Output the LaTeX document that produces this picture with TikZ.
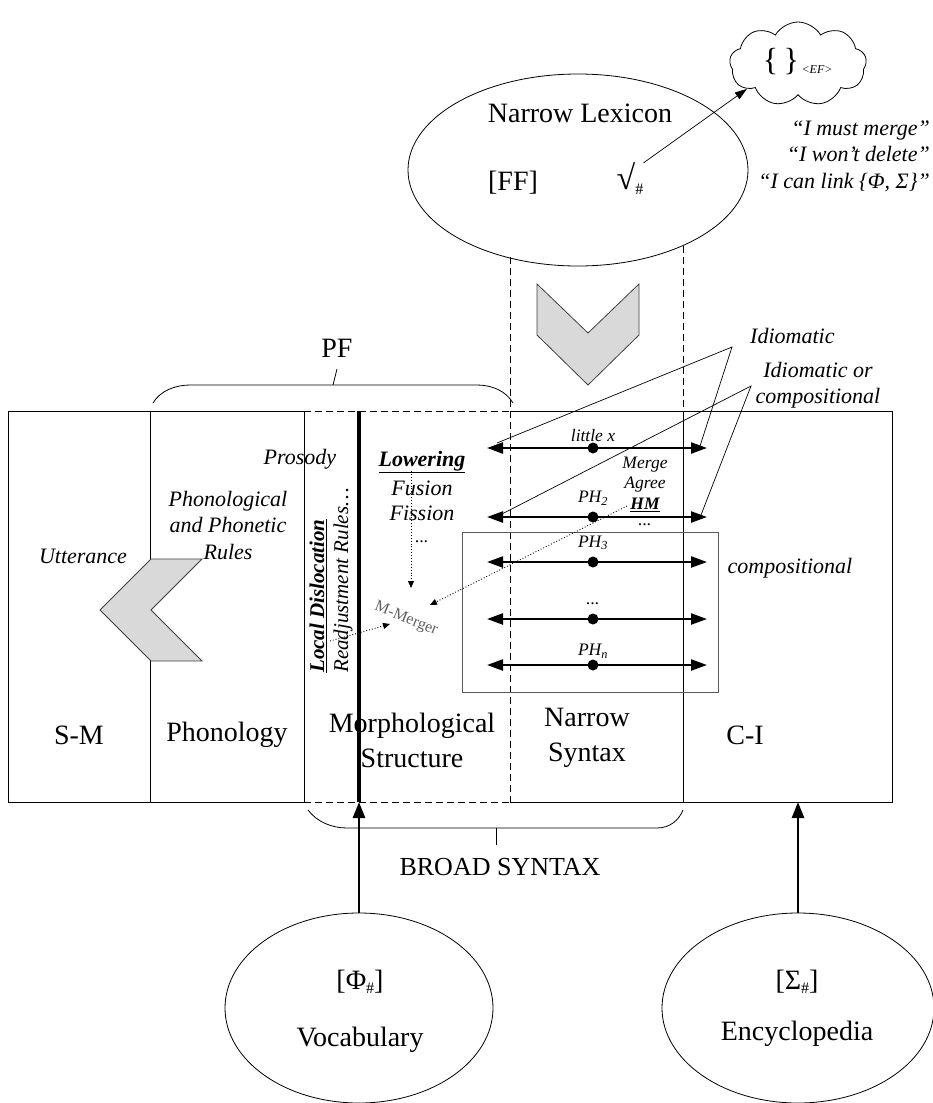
\documentclass[tikz,border=0pt]{standalone}
\usepackage{fontspec}
\setmainfont{Liberation Serif}
\usetikzlibrary{arrows.meta,shapes.geometric,shapes.symbols}

\tikzset{
  frame/.style={line width=0.8pt, draw=black},
  dashframe/.style={line width=0.8pt, dash pattern=on 7pt off 4pt},
  bigtxt/.style={font=\fontsize{28}{35}\selectfont, align=center, inner sep=0pt},
  itxt/.style={font=\fontsize{22}{26.5}\selectfont\itshape, align=center, inner sep=0pt},
  stxt/.style={font=\fontsize{17.5}{20}\selectfont\itshape, inner sep=0pt},
  phrase/.style={line width=2.3pt, {Triangle[length=16pt,width=11pt]}-{Triangle[length=16pt,width=11pt]}},
  headdot/.style={circle, fill=black, inner sep=0pt, minimum size=11pt},
  pointer/.style={line width=0.7pt},
  dotarrow/.style={dotted, line width=0.9pt, -{Triangle[length=7pt,width=6pt]}},
  chevron/.style={fill=gray!30, draw=black!75, line width=0.8pt},
  lobe/.style={ellipse, draw, line width=0.8pt, inner sep=0pt},
  feed/.style={line width=2.6pt, -{Triangle[length=16pt,width=12pt]}}
}

\begin{document}
\begin{tikzpicture}[x=1pt,y=-1pt]
\path[use as bounding box] (0,0) rectangle (933,1103);

% ---------- lexicon at the top ----------
\node[lobe, minimum width=340pt, minimum height=192pt] (lex) at (578,170) {};
\node[bigtxt] (lexname) at (580,113) {Narrow Lexicon};
\node[bigtxt] (ff) at (513,183) {[FF]};
\node[bigtxt] (root) at (630,179) {{\fontsize{34}{34}\selectfont √}\raisebox{-5pt}{\fontsize{16}{16}\selectfont\#}};

\node[cloud, cloud puffs=9, cloud puff arc=120, aspect=1.6, draw, line width=0.8pt,
      minimum width=137pt, minimum height=84pt, inner sep=0pt] (cloud) at (798,64) {};
\node[inner sep=0pt, font=\fontsize{32}{32}\selectfont] (braces) at (781,62) {\{\,\}};
\node[inner sep=0pt, font=\fontsize{12}{12}\selectfont\itshape] (ef) at (817,70) {<EF>};
\draw[pointer, -{Triangle[length=12pt,width=8pt]}] (root.north east) -- (cloud.206);

\node[itxt, align=right, anchor=east] (quotes) at (930,156)
  {“I must merge”\\“I won’t delete”\\“I can link \{Φ, Σ\}”};

% dashed projection of the lexicon onto narrow syntax
\coordinate (lexL) at (510,257);
\coordinate (lexR) at (683,246);
\coordinate (nsL) at (510,802);
\coordinate (nsR) at (683,411);
\draw[dashframe] (lexL) -- (nsL);
\draw[dashframe] (lexR) -- (nsR);

% downward chevron
\draw[chevron] (537,284) -- (588,333) -- (639,284) -- (639,335) -- (588,385) -- (537,335) -- cycle;

% ---------- PF brace ----------
\coordinate (pfa) at (153,403);
\coordinate (pfb) at (513,403);
\coordinate (pfm) at (333,385);
\node[bigtxt] (pf) at (337,348) {PF};
\draw[frame] (pfa) .. controls (160,391) and (175,385) .. (190,385) -- (477,385)
      .. controls (492,385) and (506,391) .. (pfb);
\draw[frame] (pfm) -- (pf.south |- 0,369);

% ---------- main frame and columns ----------
\draw[frame] (304,411) -- (8,411) -- (8,802) -- (304,802);
\draw[frame] (510,411) -- (892,411) -- (892,802) -- (510,802);
\draw[dashframe] (304,411) -- (510,411) (304,802) -- (510,802);
\draw[frame] (150,411) -- (150,802);
\draw[frame] (304,411) -- (304,802);
\draw[frame] (nsR) -- (683,802);

% column labels
\node[bigtxt] (sm) at (79,735) {S-M};
\node[bigtxt] (phon) at (227,735) {Phonology};
\node[bigtxt] (morph) at (412,740) {Morphological\\Structure};
\node[bigtxt] (ns) at (587,738) {Narrow\\Syntax};
\node[bigtxt] (ci) at (745,735) {C-I};

% S-M / phonology
\node[itxt] (utt) at (83,556) {Utterance};
\node[itxt] (rules) at (228,525) {Phonological\\and Phonetic\\Rules};
\draw[chevron] (151,559) -- (202,559) -- (151,610) -- (202,661) -- (151,661) -- (100,610) -- cycle;

% morphological structure
\node[itxt] (prosody) at (300,459) {Prosody};
\node[inner sep=0pt, rotate=90, anchor=west, font=\fontsize{21}{21}\selectfont\bfseries\itshape]
  (locdis) at (318,673) {\underline{Local Dislocation}};
\node[inner sep=0pt, rotate=90, anchor=west, font=\fontsize{21}{21}\selectfont\itshape]
  (readj) at (343,673) {Readjustment Rules…};
\node[itxt, font=\fontsize{22}{22}\selectfont\bfseries\itshape] (lower) at (422,462) {\underline{Lowering}};
\node[itxt] (fusion) at (422,488) {Fusion};
\node[itxt] (fission) at (422,513) {Fission};
\node[stxt] (mdots) at (422,542) {...};
\node[inner sep=0pt, rotate=-22, text=black!62, font=\fontsize{16}{16}\selectfont] (mmerger) at (406,619) {M-Merger};

% narrow syntax: phrases
\draw[draw=black!65, line width=0.8pt] (462,532) rectangle (718,692);
\foreach \i/\y in {1/448, 2/517, 3/562, 4/619, 5/665}{
  \coordinate (l\i) at (487,\y);
  \coordinate (r\i) at (707,\y);
  \node[headdot] (d\i) at (593,\y) {};
  \draw[phrase] (l\i) -- (r\i);
}
\node[stxt] (lx) at (593,436) {little x};
\node[stxt] (ph2) at (593,498) {PH\textsubscript{2}};
\node[stxt] (ph3) at (593,543) {PH\textsubscript{3}};
\node[stxt] (phd) at (593,604) {...};
\node[stxt] (phn) at (593,651) {PH\textsubscript{n}};

\node[stxt] (merge) at (645,465) {Merge};
\node[stxt] (agree) at (645,485) {Agree};
\node[stxt, font=\fontsize{17.5}{20}\selectfont\bfseries\itshape] (hm) at (645,505) {\underline{HM}};
\node[stxt] (sdots) at (645,525) {...};

% dotted operations toward M-Merger
\coordinate (lowtop) at (411,471);
\coordinate (lowend) at (411,588);
\coordinate (ldstart) at (330,641);
\coordinate (ldend) at (390,624);
\coordinate (hmstart) at (627,506);
\coordinate (hmend) at (430,605);
\draw[dotarrow] (lowtop) -- (lowend);
\draw[dotarrow] (ldstart) -- (ldend);
\draw[dotarrow] (hmstart) -- (hmend);

% interpretation labels
\coordinate (idv) at (732,347);
\coordinate (icv) at (751,386);
\coordinate (l1e) at (497,443);
\coordinate (r1e) at (700,446);
\coordinate (l2e) at (500,515);
\coordinate (r2e) at (701,515);
\node[itxt, anchor=west] (idiom) at (750,336) {Idiomatic};
\node[itxt] (idcomp) at (818,385) {Idiomatic or\\compositional};
\node[itxt] (comp) at (790,568) {compositional};
\draw[pointer] (l1e) -- (idv) -- (r1e);
\draw[pointer] (l2e) -- (icv) -- (r2e);

% thick boundary line
\draw[line width=4pt] (359,411) -- (359,802);

% ---------- broad syntax brace ----------
\coordinate (bsa) at (308,810);
\coordinate (bsb) at (683,810);
\coordinate (bsm) at (496,828);
\node[bigtxt, font=\fontsize{26}{30}\selectfont] (broad) at (500,867) {BROAD SYNTAX};
\draw[frame] (bsa) .. controls (317,822) and (332,828) .. (347,828) -- (657,828)
      .. controls (670,828) and (679,820) .. (bsb);
\draw[frame] (bsm) -- (496,845);

% ---------- vocabulary and encyclopedia ----------
\node[lobe, minimum width=268pt, minimum height=190pt] (vocab) at (359,1008) {};
\node[bigtxt] (phi) at (360,982) {[Φ\raisebox{-4pt}{\fontsize{16}{16}\selectfont\#}]};
\node[bigtxt] (vocname) at (360,1040) {Vocabulary};
\node[lobe, minimum width=272pt, minimum height=190pt] (ency) at (798,1008) {};
\node[bigtxt] (sigma) at (797,982) {[Σ\raisebox{-4pt}{\fontsize{16}{16}\selectfont\#}]};
\node[bigtxt] (encname) at (797,1034) {Encyclopedia};

\coordinate (vin) at (359,802);
\coordinate (ein) at (798,802);
\draw[feed] (vocab.north) -- (vin);
\draw[feed] (ency.north) -- (ein);
\end{tikzpicture}
\end{document}
